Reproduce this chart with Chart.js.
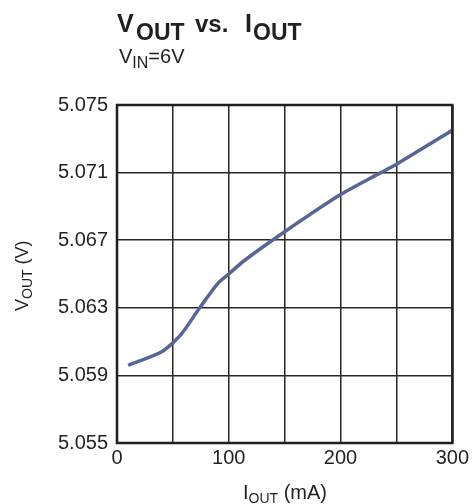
<!DOCTYPE html>
<html>
<head>
<meta charset="utf-8">
<script src="https://cdn.jsdelivr.net/npm/chart.js@4/dist/chart.umd.min.js"></script>
<style>
  html, body { margin: 0; padding: 0; background: #fff; }
  #wrap { width: 472px; height: 504px; }
</style>
</head>
<body>
<div id="wrap"><canvas id="chart" width="472" height="504"></canvas></div>
<script>
// ── Data ──
const iout = [10, 40, 57, 74, 91, 100, 114, 150, 200, 236, 250, 300];            // mA
const vout = [5.0596, 5.0604, 5.0614, 5.0630, 5.0645, 5.0650, 5.0658, 5.0675, 5.0697, 5.0710, 5.0715, 5.0735]; // V

const xTicks  = [0, 50, 100, 150, 200, 250, 300];
const xLabels = [0, 100, 200, 300];
const yTicks  = [5.055, 5.059, 5.063, 5.067, 5.071, 5.075];

const INK  = '#231f20';
const GRID = '#2a2627';
const LINE = '#5a6597';
const FONT = '"Liberation Sans", Arial, Helvetica, sans-serif';

// texto con subíndices: cada trozo lleva su propia fuente y desplazamiento
function drawRuns(ctx, x, y, parts) {
  parts.forEach(p => {
    ctx.font = p.f;
    const px = (p.x !== undefined) ? p.x : x;
    ctx.fillText(p.t, px, y + (p.dy || 0));
    x = px + ctx.measureText(p.t).width;
  });
}

const decor = {
  id: 'decor',
  afterDraw(chart) {
    const ctx = chart.ctx;
    const a = chart.chartArea;
    ctx.save();
    // marco
    ctx.strokeStyle = INK;
    ctx.lineWidth = 2.5;
    ctx.strokeRect(a.left, a.top, a.right - a.left, a.bottom - a.top);

    ctx.fillStyle = INK;
    ctx.textBaseline = 'alphabetic';
    ctx.textAlign = 'left';

    // título
    drawRuns(ctx, 118, 32, [
      { t: 'V',   f: 'bold 25px ' + FONT, x: 117 },
      { t: 'OUT', f: 'bold 23px ' + FONT, x: 136, dy: 8 },
      { t: 'vs.', f: 'bold 24px ' + FONT, x: 195 },
      { t: 'I',   f: 'bold 25px ' + FONT, x: 245 },
      { t: 'OUT', f: 'bold 23px ' + FONT, x: 253, dy: 8 }
    ]);
    // subtítulo
    drawRuns(ctx, 119, 63, [
      { t: 'V',   f: '20px ' + FONT },
      { t: 'IN',  f: '16px ' + FONT, dy: 5 },
      { t: '=6V', f: '20px ' + FONT }
    ]);

    // título eje x
    drawRuns(ctx, 243, 499, [
      { t: 'I',     f: '20px ' + FONT },
      { t: 'OUT',   f: '14px ' + FONT, dy: 4 },
      { t: ' (mA)', f: '20px ' + FONT }
    ]);

    // título eje y (rotado)
    ctx.translate(28, 311);
    ctx.rotate(-Math.PI / 2);
    drawRuns(ctx, 0, 0, [
      { t: 'V',    f: '18px ' + FONT },
      { t: 'OUT',  f: '14px ' + FONT, dy: 4 },
      { t: ' (V)', f: '18px ' + FONT }
    ]);
    ctx.restore();
  }
};

new Chart(document.getElementById('chart'), {
  type: 'line',
  data: {
    datasets: [{
      data: iout.map((v, i) => ({ x: v, y: vout[i] })),
      borderColor: LINE,
      borderWidth: 3.5,
      pointRadius: 0,
      tension: 0.25,
      fill: false
    }]
  },
  options: {
    responsive: false,
    animation: false,
    layout: { padding: { top: 105, right: 18, left: 0, bottom: 0 } },
    plugins: { legend: { display: false }, tooltip: { enabled: false }, title: { display: false } },
    scales: {
      x: {
        type: 'linear', min: 0, max: 300,
        afterBuildTicks: s => { s.ticks = xTicks.map(v => ({ value: v })); },
        afterFit: s => { s.height = 61; },
        grid: { color: GRID, lineWidth: 1.5, drawTicks: false },
        border: { display: false },
        ticks: {
          autoSkip: false, maxRotation: 0, padding: 3,
          color: INK, font: { family: FONT, size: 20 },
          callback: v => xLabels.includes(v) ? String(v) : ''
        }
      },
      y: {
        type: 'linear', min: 5.055, max: 5.075,
        afterBuildTicks: s => { s.ticks = yTicks.map(v => ({ value: v })); },
        afterFit: s => { s.width = 117; },
        grid: { color: GRID, lineWidth: 1.5, drawTicks: false },
        border: { display: false },
        ticks: {
          padding: 9,
          color: INK, font: { family: FONT, size: 20 },
          callback: v => v.toFixed(3)
        }
      }
    }
  },
  plugins: [decor]
});
</script>
</body>
</html>
